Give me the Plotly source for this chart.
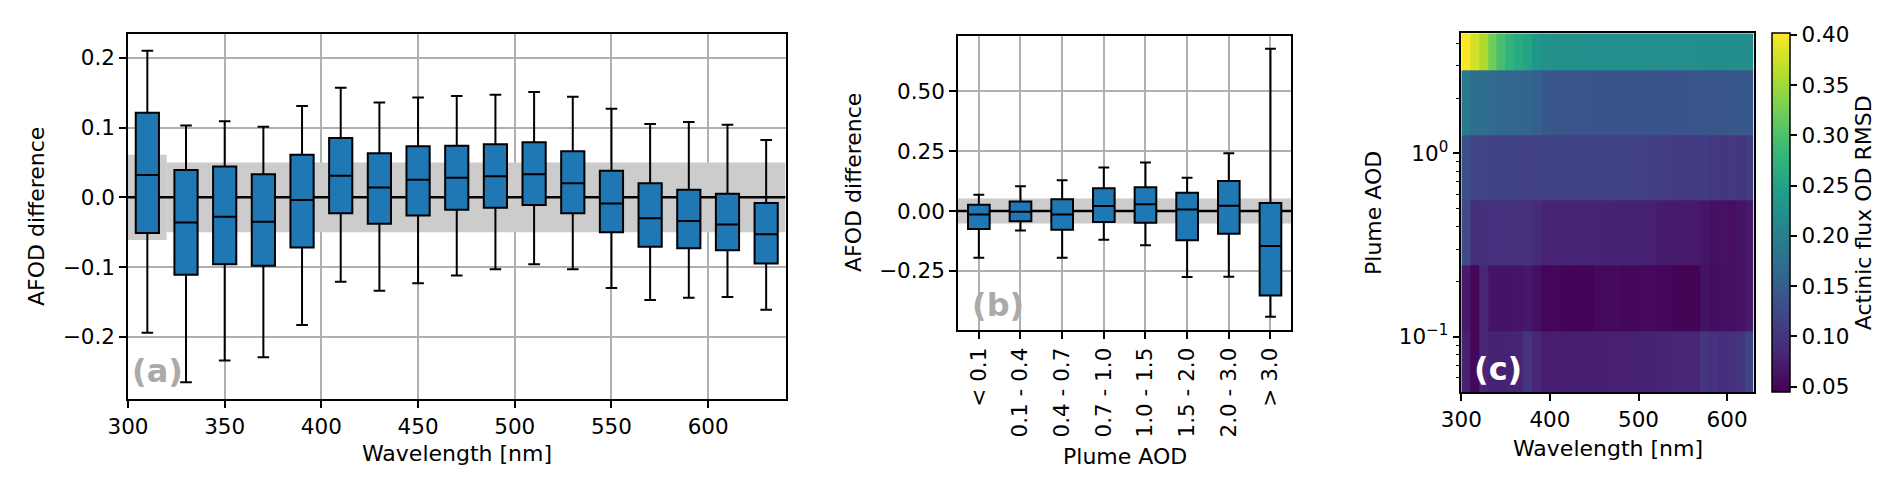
import math
import plotly.graph_objects as go

# ---- panel (a): AFOD difference per wavelength bin ----
wavelengths = [310, 330, 350, 370, 390, 410, 430, 450, 470, 490, 510, 530, 550, 570, 590, 610, 630]
wl_upper = [0.210, 0.103, 0.109, 0.101, 0.131, 0.157, 0.136, 0.143, 0.145, 0.147, 0.151, 0.144, 0.127, 0.105, 0.108, 0.104, 0.082]
wl_q3 = [0.121, 0.039, 0.044, 0.033, 0.061, 0.085, 0.063, 0.073, 0.074, 0.076, 0.079, 0.066, 0.038, 0.020, 0.011, 0.005, -0.008]
wl_median = [0.032, -0.036, -0.028, -0.035, -0.004, 0.031, 0.014, 0.025, 0.028, 0.030, 0.033, 0.020, -0.009, -0.030, -0.034, -0.039, -0.053]
wl_q1 = [-0.051, -0.111, -0.096, -0.098, -0.072, -0.023, -0.038, -0.026, -0.018, -0.015, -0.011, -0.023, -0.050, -0.071, -0.073, -0.076, -0.095]
wl_lower = [-0.194, -0.265, -0.234, -0.229, -0.183, -0.121, -0.134, -0.123, -0.112, -0.103, -0.096, -0.103, -0.130, -0.147, -0.144, -0.143, -0.161]

# grey uncertainty band (step)
band_edges = [300, 320, 640]
band_half = [0.061, 0.050]

# ---- panel (b): AFOD difference per plume AOD bin ----
aod_bins = ["< 0.1", "0.1 - 0.4", "0.4 - 0.7", "0.7 - 1.0", "1.0 - 1.5", "1.5 - 2.0", "2.0 - 3.0", "> 3.0"]
aod_upper = [0.068, 0.103, 0.128, 0.182, 0.203, 0.139, 0.241, 0.677]
aod_q3 = [0.026, 0.040, 0.049, 0.095, 0.099, 0.076, 0.125, 0.033]
aod_median = [-0.014, -0.003, -0.015, 0.021, 0.028, 0.006, 0.022, -0.146]
aod_q1 = [-0.075, -0.043, -0.078, -0.046, -0.049, -0.122, -0.095, -0.353]
aod_lower = [-0.195, -0.081, -0.195, -0.120, -0.143, -0.275, -0.274, -0.441]
aod_band_half = 0.052

# ---- panel (c): actinic flux OD RMSD ----
rmsd_wl = [305, 315, 325, 335, 345, 355, 365, 375, 385, 395, 405, 415, 425, 435, 445, 455, 465,
           475, 485, 495, 505, 515, 525, 535, 545, 555, 565, 575, 585, 595, 605, 615, 625]
aod_edges = [0.05, 0.107, 0.244, 0.554, 1.26, 2.85, 4.52]
rmsd_row0 = [0.078, 0.050, 0.083, 0.078, 0.078, 0.079, 0.080, 0.098, 0.082, 0.074, 0.074, 0.074, 0.075, 0.075, 0.075, 0.075, 0.076,
             0.076, 0.076, 0.077, 0.077, 0.078, 0.080, 0.081, 0.081, 0.082, 0.082, 0.100, 0.095, 0.090, 0.095, 0.100, 0.118]
rmsd_row1 = [0.070, 0.050, 0.083, 0.064, 0.064, 0.064, 0.065, 0.068, 0.060, 0.049, 0.050, 0.048, 0.047, 0.046, 0.047, 0.052, 0.052,
             0.053, 0.050, 0.050, 0.051, 0.051, 0.050, 0.049, 0.047, 0.047, 0.048, 0.062, 0.057, 0.060, 0.058, 0.063, 0.070]
rmsd_row2 = [0.125, 0.090, 0.094, 0.095, 0.095, 0.095, 0.094, 0.096, 0.087, 0.080, 0.080, 0.080, 0.080, 0.079, 0.079, 0.079, 0.078,
             0.078, 0.078, 0.077, 0.077, 0.076, 0.072, 0.071, 0.070, 0.070, 0.069, 0.065, 0.060, 0.062, 0.058, 0.064, 0.069]
rmsd_row3 = [0.132, 0.116, 0.116, 0.115, 0.115, 0.114, 0.114, 0.113, 0.113, 0.114, 0.114, 0.114, 0.114, 0.114, 0.115, 0.115, 0.115,
             0.115, 0.114, 0.114, 0.113, 0.112, 0.110, 0.108, 0.106, 0.105, 0.107, 0.109, 0.104, 0.102, 0.104, 0.101, 0.108]
rmsd_row4 = [0.190, 0.176, 0.173, 0.166, 0.162, 0.161, 0.161, 0.160, 0.152, 0.142, 0.140, 0.140, 0.139, 0.139, 0.139, 0.138, 0.138,
             0.138, 0.138, 0.138, 0.138, 0.138, 0.138, 0.137, 0.137, 0.138, 0.139, 0.140, 0.140, 0.140, 0.141, 0.141, 0.143]
rmsd_row5 = [0.400, 0.378, 0.357, 0.322, 0.296, 0.276, 0.262, 0.252, 0.233, 0.226, 0.224, 0.223, 0.223, 0.222, 0.222, 0.222, 0.221,
             0.221, 0.221, 0.221, 0.221, 0.220, 0.220, 0.220, 0.220, 0.220, 0.220, 0.219, 0.219, 0.219, 0.219, 0.219, 0.218]
cbar_ticks = [0.05, 0.10, 0.15, 0.20, 0.25, 0.30, 0.35, 0.40]
aod_minor_ticks = [0.06, 0.07, 0.08, 0.09, 0.2, 0.3, 0.4, 0.5, 0.6, 0.7, 0.8, 0.9, 2, 3, 4]

W, H = 1892, 478
FONT = "DejaVu Sans"
FS = 21.5      # tick labels
FS_TITLE = 22  # axis titles
BOX_BLUE = "#1f77b4"
GRID = "#b0b0b0"


def px_x(p):
    return p / W


def px_y(p):
    return 1 - p / H


fig = go.Figure()

# (a) boxes
fig.add_trace(go.Box(
    x=wavelengths, q1=wl_q1, median=wl_median, q3=wl_q3,
    lowerfence=wl_lower, upperfence=wl_upper,
    width=12, fillcolor=BOX_BLUE, line=dict(color="black", width=2),
    whiskerwidth=0.5, boxpoints=False, xaxis="x", yaxis="y", showlegend=False,
))

# (b) boxes
fig.add_trace(go.Box(
    x=aod_bins, q1=aod_q1, median=aod_median, q3=aod_q3,
    lowerfence=aod_lower, upperfence=aod_upper,
    width=0.52, fillcolor=BOX_BLUE, line=dict(color="black", width=2),
    whiskerwidth=0.5, boxpoints=False, xaxis="x2", yaxis="y2", showlegend=False,
))

# (c) heatmap
fig.add_trace(go.Heatmap(
    x=rmsd_wl, y=aod_edges,
    z=[rmsd_row0, rmsd_row1, rmsd_row2, rmsd_row3, rmsd_row4, rmsd_row5],
    colorscale="Viridis", zmin=0.0443, zmax=0.4014,
    xaxis="x3", yaxis="y3",
    colorbar=dict(
        x=px_x(1764), xanchor="left", xpad=0,
        y=px_y(25.3), yanchor="top", ypad=0,
        len=(384 - 25.3) / H, lenmode="fraction",
        thickness=18, thicknessmode="pixels",
        outlinewidth=1.5, outlinecolor="black",
        tickvals=cbar_ticks, tickformat=".2f",
        ticks="outside", ticklen=7, tickwidth=1.5, tickcolor="black",
        tickfont=dict(family=FONT, size=FS, color="black"),
        title=dict(text="Actinic flux OD RMSD", side="right",
                   font=dict(family=FONT, size=FS_TITLE, color="black")),
    ),
))

shapes = []
# grey band (a)
for i in range(len(band_half)):
    shapes.append(dict(type="rect", xref="x", yref="y", x0=band_edges[i], x1=band_edges[i + 1],
                       y0=-band_half[i], y1=band_half[i], fillcolor="#cccccc", line=dict(width=0),
                       layer="between"))
# grey band (b)
shapes.append(dict(type="rect", xref="x2", yref="y2", x0=-0.5, x1=len(aod_bins) - 0.5,
                   y0=-aod_band_half, y1=aod_band_half, fillcolor="#cccccc", line=dict(width=0),
                   layer="between"))
# zero lines
shapes.append(dict(type="line", xref="x", yref="y", x0=band_edges[0], x1=band_edges[-1], y0=0, y1=0,
                   line=dict(color="black", width=2.5), layer="between"))
shapes.append(dict(type="line", xref="x2", yref="y2", x0=-0.5, x1=len(aod_bins) - 0.5, y0=0, y1=0,
                   line=dict(color="black", width=2.5), layer="between"))

axis_common = dict(showline=True, mirror=True, linecolor="black", linewidth=1.5,
                   ticks="outside", ticklen=7, tickwidth=1.5, tickcolor="black",
                   zeroline=False, automargin=False,
                   tickfont=dict(family=FONT, size=FS, color="black"))

fig.update_layout(
    width=W, height=H,
    margin=dict(l=0, r=0, t=0, b=0, autoexpand=False),
    paper_bgcolor="white", plot_bgcolor="white",
    font=dict(family=FONT, size=FS, color="black"),
    showlegend=False,
    shapes=shapes,
    xaxis=dict(domain=[px_x(120), px_x(777.5)], range=[300, 640], anchor="y",
               tickvals=[300, 350, 400, 450, 500, 550, 600],
               showgrid=True, gridcolor=GRID, gridwidth=1.5, **axis_common),
    yaxis=dict(domain=[px_y(391), px_y(26)], range=[-0.289, 0.234], anchor="x",
               tickvals=[-0.2, -0.1, 0.0, 0.1, 0.2], tickformat=".1f",
               showgrid=True, gridcolor=GRID, gridwidth=1.5, **axis_common),
    xaxis2=dict(domain=[px_x(950), px_x(1283.3)], type="category", range=[-0.5, 7.5], anchor="y2",
                tickangle=-90, showgrid=True, gridcolor=GRID, gridwidth=1.5, **axis_common),
    yaxis2=dict(domain=[px_y(322.3), px_y(27.7)], range=[-0.498, 0.732], anchor="x2",
                tickvals=[-0.25, 0.0, 0.25, 0.5], tickformat=".2f",
                showgrid=True, gridcolor=GRID, gridwidth=1.5, **axis_common),
    xaxis3=dict(domain=[px_x(1453.3), px_x(1745.7)], range=[300, 630], anchor="y3",
                tickvals=[300, 400, 500, 600], showgrid=False, **axis_common),
    yaxis3=dict(domain=[px_y(384), px_y(25.3)], type="log",
                range=[math.log10(aod_edges[0]), math.log10(aod_edges[-1])], anchor="x3",
                tickvals=[0.1, 1], ticktext=["10<sup>\u22121</sup>", "10<sup>0</sup>"],
                showgrid=False,
                minor=dict(tickvals=aod_minor_ticks,
                           ticks="outside", ticklen=4, tickwidth=1.2, tickcolor="black", showgrid=False),
                **axis_common),
)

# axis titles
titles = [
    ("AFOD difference", 28.5, 208.5, -90),
    ("Wavelength [nm]", 448.7, 445, 0),
    ("AFOD difference", 845, 175, -90),
    ("Plume AOD", 1116.7, 448, 0),
    ("Plume AOD", 1365, 205, -90),
    ("Wavelength [nm]", 1599.5, 440, 0),
]
for text, cx, cy, ang in titles:
    fig.add_annotation(text=text, x=px_x(cx), y=px_y(cy), xref="paper", yref="paper",
                       xanchor="center", yanchor="middle", textangle=ang, showarrow=False,
                       font=dict(family=FONT, size=FS_TITLE, color="black"))

# panel labels
for text, cx, cy, col in [("(a)", 149, 363, "#aaaaaa"), ("(b)", 990, 296.5, "#aaaaaa"), ("(c)", 1490, 361, "white")]:
    fig.add_annotation(text="<b>" + text + "</b>", x=px_x(cx), y=px_y(cy), xref="paper", yref="paper",
                       xanchor="center", yanchor="middle", showarrow=False,
                       font=dict(family=FONT, size=32, color=col))

fig.write_html("out.html")
